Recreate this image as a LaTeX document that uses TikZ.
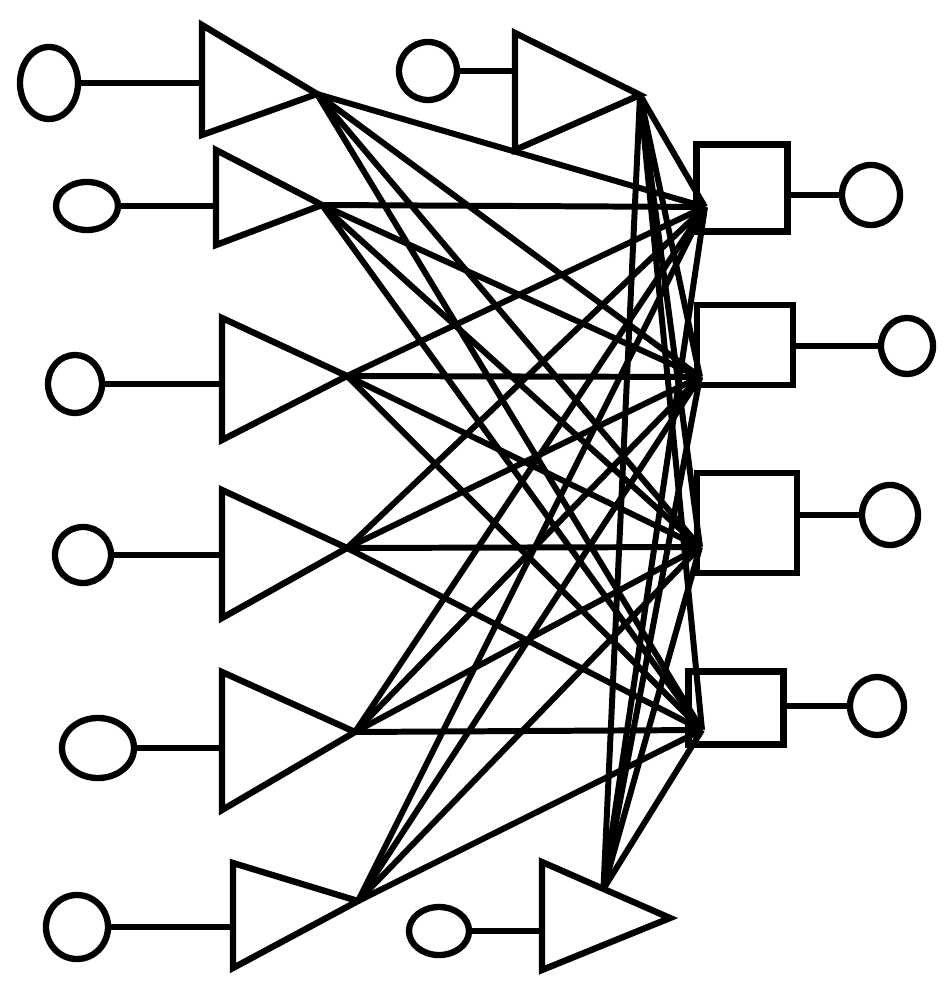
\documentclass[tikz,border=0pt]{standalone}
\usepackage{tikz}
\usetikzlibrary{positioning}
\usetikzlibrary{shapes.geometric}
\usetikzlibrary{calc}

\begin{document}
\begin{tikzpicture}[x=0.01cm, y=-0.01cm, line width=1.8pt,
        port/.style={draw, ellipse, inner sep=0pt, outer sep=0pt},
        unit/.style={draw, rectangle, inner sep=0pt, outer sep=0pt},
        wire/.style={line width=1.7pt}]
        \useasboundingbox (0,0) rectangle (945,998);

        % left column: source -> amplifier
        \foreach \n/\ex/\ey/\rx/\ry/\lx/\ty/\by/\tx/\tty in {
                1/49/83/0.58/0.72/202/25/135/317/94,
                2/87/206/0.62/0.48/216/150/245/322/205,
                3/75/384/0.54/0.58/222/318/440/347/376,
                4/83/555/0.56/0.56/222/490/618/347/548,
                5/98/748/0.72/0.60/222/672/810/355/732,
                6/77/927/0.62/0.64/233/863/968/358/901}
        {
                \node [port, minimum width=\rx cm, minimum height=\ry cm] (src\n) at (\ex,\ey) {};
                \coordinate (in\n) at (\lx,\ey);
                \coordinate (amp\n) at (\tx,\tty);
                \draw (\lx,\ty) -- (amp\n) -- (\lx,\by) -- cycle;
                \draw (src\n) -- (in\n);
        }

        % top and bottom amplifiers in the middle
        \node [port, minimum width=0.58cm, minimum height=0.58cm] (srctop) at (428,71) {};
        \coordinate (ampt) at (640,95);
        \draw (515,33) -- (ampt) -- (515,150) -- cycle;
        \draw (srctop) -- (515,71);

        \node [port, minimum width=0.60cm, minimum height=0.48cm] (srcbot) at (439,931) {};
        \coordinate (ampb) at (670,918);
        \draw (542,862) -- (ampb) -- (542,970) -- cycle;
        \draw (srcbot) -- (542,931);
        \coordinate (hub) at ($(542,862)!0.48!(ampb)$);

        % right column: receiver boxes -> loads
        \foreach \n/\bx/\by/\w/\h/\ox/\oy/\rx/\ry/\px/\py in {
                1/742/188/0.91/0.87/871/195/0.58/0.60/705/207,
                2/745/345/0.96/0.80/907/346/0.52/0.56/700/377,
                3/747/523/1.00/1.00/890/515/0.56/0.60/700/547,
                4/736/708/0.95/0.73/877/706/0.54/0.58/702/730}
        {
                \node [unit, minimum width=\w cm, minimum height=\h cm] (box\n) at (\bx,\by) {};
                \node [port, minimum width=\rx cm, minimum height=\ry cm] (load\n) at (\ox,\oy) {};
                \draw (box\n.east |- load\n) -- (load\n);
                \coordinate (rx\n) at (\px,\py);
        }

        % every amplifier feeds every box
        \foreach \a in {amp1,amp2,amp3,amp4,amp5,amp6,ampt,hub}
                \foreach \b in {rx1,rx2,rx3,rx4}
                        \draw [wire] (\a) -- (\b);
        \draw [wire] (ampt) -- (hub);

\end{tikzpicture}
\end{document}
